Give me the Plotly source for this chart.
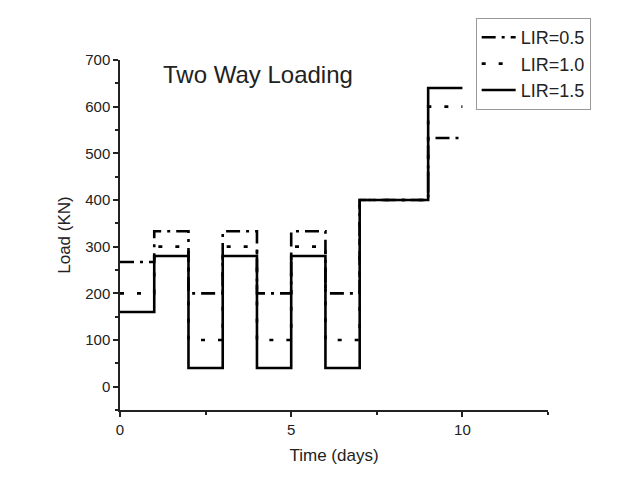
import plotly.graph_objects as go

days = [0, 1, 2, 3, 4, 5, 6, 7, 9, 10]
lir_05 = [267, 333, 200, 333, 200, 333, 200, 400, 533, 533]
lir_10 = [200, 300, 100, 300, 100, 300, 100, 400, 600, 600]
lir_15 = [160, 280, 40, 280, 40, 280, 40, 400, 640, 640]
names = ["LIR=0.5", "LIR=1.0", "LIR=1.5"]

fig = go.Figure()
styles = [("14px,6px,3px,6px", lir_05), ("4px,13px", lir_10), ("solid", lir_15)]
for name, (dash, vals) in zip(names, styles):
    fig.add_trace(go.Scatter(x=days, y=vals, mode="lines", name=name,
                             line=dict(color="black", width=2.6, dash=dash, shape="hv")))

fig.add_annotation(text="Two Way Loading", x=0.095, xref="paper", xanchor="left",
                   y=0.96, yref="paper", yanchor="middle", showarrow=False,
                   font=dict(size=24, color="#222", family="Liberation Sans, Arial"))

axis_common = dict(showline=True, linecolor="#222", linewidth=1.5, ticks="outside",
                   tickcolor="#222", tickwidth=1.5, ticklen=5, showgrid=False,
                   zeroline=False, tickfont=dict(size=15, color="#222"),
                   title_font=dict(size=17, color="#222"))
fig.update_xaxes(range=[0, 12.5], dtick=5, tick0=0, title_text="Time (days)",
                 minor=dict(ticks="outside", ticklen=3, dtick=2.5, tick0=0,
                            tickcolor="#222", tickwidth=1.5),
                 title_standoff=12, **axis_common)
fig.update_yaxes(range=[-50, 700], dtick=100, tick0=0, title_text="Load (KN)",
                 minor=dict(ticks="outside", ticklen=3, dtick=50, tick0=0,
                            tickcolor="#222", tickwidth=1.5),
                 title_standoff=10, **axis_common)

fig.update_layout(
    width=618, height=480,
    margin=dict(l=120, r=70, t=60, b=70),
    paper_bgcolor="white", plot_bgcolor="white",
    font=dict(family="Liberation Sans, Arial", color="#222"),
    legend=dict(x=0.831, y=1.12, xanchor="left", yanchor="top",
                bordercolor="#999", borderwidth=1, font=dict(size=18),
                itemwidth=34, tracegroupgap=0, bgcolor="white"),
)

fig.write_html("out.html")
